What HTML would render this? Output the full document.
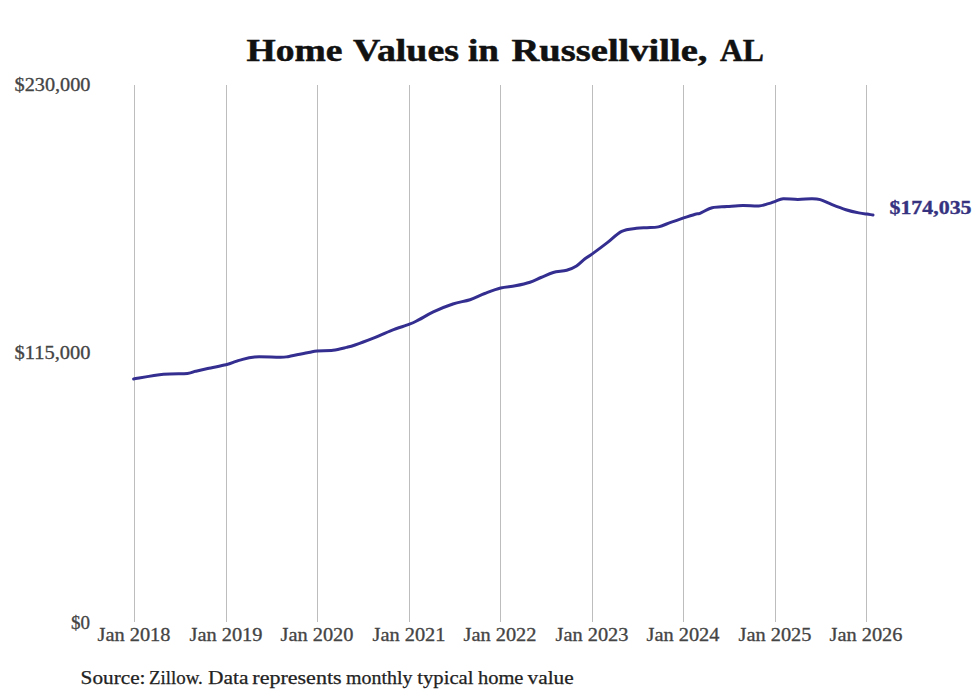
<!DOCTYPE html>
<html><head><meta charset="utf-8"><style>
html,body{margin:0;padding:0;background:#fff;}
body{width:980px;height:699px;overflow:hidden;}
svg{display:block;}
text{font-family:"Liberation Serif",serif;}
</style></head><body>
<svg width="980" height="699" viewBox="0 0 980 699">
<rect width="980" height="699" fill="#fff"/>
<g font-size="32" font-weight="bold" fill="#111" stroke="#111" stroke-width="0.5"><text x="246.5" y="60.5" textLength="96" lengthAdjust="spacingAndGlyphs">Home</text><text x="353" y="60.5" textLength="106" lengthAdjust="spacingAndGlyphs">Values</text><text x="468" y="60.5" textLength="31" lengthAdjust="spacingAndGlyphs">in</text><text x="511.5" y="60.5" textLength="196" lengthAdjust="spacingAndGlyphs">Russellville,</text><text x="720" y="60.5" textLength="44" lengthAdjust="spacingAndGlyphs">AL</text></g>
<g stroke="#bdbdbd" stroke-width="1"><line x1="134.5" y1="85" x2="134.5" y2="622"/><line x1="226.5" y1="85" x2="226.5" y2="622"/><line x1="317.5" y1="85" x2="317.5" y2="622"/><line x1="409.5" y1="85" x2="409.5" y2="622"/><line x1="500.5" y1="85" x2="500.5" y2="622"/><line x1="592.5" y1="85" x2="592.5" y2="622"/><line x1="683.5" y1="85" x2="683.5" y2="622"/><line x1="775.5" y1="85" x2="775.5" y2="622"/><line x1="866.5" y1="85" x2="866.5" y2="622"/></g>
<g font-size="18" fill="#444" stroke="#444" stroke-width="0.3">
<text x="90.5" y="91" text-anchor="end" textLength="76" lengthAdjust="spacingAndGlyphs">$230,000</text>
<text x="90.5" y="359" text-anchor="end" textLength="76" lengthAdjust="spacingAndGlyphs">$115,000</text>
<text x="90" y="629" text-anchor="end" textLength="19" lengthAdjust="spacingAndGlyphs">$0</text>
<text x="134" y="641" text-anchor="middle" textLength="73" lengthAdjust="spacingAndGlyphs">Jan 2018</text><text x="226" y="641" text-anchor="middle" textLength="73" lengthAdjust="spacingAndGlyphs">Jan 2019</text><text x="317" y="641" text-anchor="middle" textLength="73" lengthAdjust="spacingAndGlyphs">Jan 2020</text><text x="409" y="641" text-anchor="middle" textLength="73" lengthAdjust="spacingAndGlyphs">Jan 2021</text><text x="500" y="641" text-anchor="middle" textLength="73" lengthAdjust="spacingAndGlyphs">Jan 2022</text><text x="592" y="641" text-anchor="middle" textLength="73" lengthAdjust="spacingAndGlyphs">Jan 2023</text><text x="683" y="641" text-anchor="middle" textLength="73" lengthAdjust="spacingAndGlyphs">Jan 2024</text><text x="775" y="641" text-anchor="middle" textLength="73" lengthAdjust="spacingAndGlyphs">Jan 2025</text><text x="866" y="641" text-anchor="middle" textLength="73" lengthAdjust="spacingAndGlyphs">Jan 2026</text>
</g>
<path d="M133.6,378.9 C138.6,378.1 154.5,375.1 163.5,374.2 C172.5,373.3 182.1,373.9 187.4,373.4 C192.7,372.9 192.0,372.1 195.4,371.3 C198.8,370.5 202.6,369.6 207.7,368.5 C212.8,367.4 221.4,365.9 226.0,364.8 C230.6,363.7 232.9,362.5 235.2,361.7 C237.5,360.9 236.8,360.9 240.0,360.1 C243.2,359.3 248.0,357.4 254.7,356.9 C261.4,356.4 274.7,357.4 280.4,357.3 C286.1,357.2 284.3,357.2 289.0,356.4 C293.7,355.6 303.8,353.4 308.5,352.5 C313.2,351.6 313.0,351.3 317.1,350.9 C321.2,350.5 328.1,350.9 333.0,350.3 C337.9,349.7 342.8,348.3 346.5,347.4 C350.2,346.5 350.5,346.5 355.0,345.0 C359.5,343.5 367.3,340.6 373.4,338.2 C379.5,335.8 385.7,332.6 391.7,330.3 C397.7,328.0 405.0,325.9 409.5,324.2 C414.0,322.5 414.6,322.0 418.6,319.9 C422.6,317.9 427.6,314.6 433.3,311.9 C439.0,309.2 446.8,306.0 452.9,304.0 C459.0,302.0 464.7,301.4 470.0,299.7 C475.3,297.9 479.6,295.4 484.7,293.5 C489.8,291.6 495.5,289.3 500.6,288.0 C505.7,286.7 510.4,286.8 515.3,285.8 C520.2,284.8 525.7,283.6 530.0,282.2 C534.3,280.8 537.1,279.1 541.0,277.5 C544.9,275.9 548.9,273.7 553.2,272.5 C557.5,271.3 562.8,271.4 566.7,270.3 C570.6,269.2 573.5,267.9 576.5,266.0 C579.5,264.1 582.4,260.8 585.0,258.8 C587.6,256.8 588.6,256.6 592.3,253.9 C596.0,251.2 602.1,246.7 607.0,242.9 C611.9,239.1 616.8,233.7 621.7,231.3 C626.6,228.9 632.2,228.9 636.4,228.3 C640.6,227.7 643.3,227.9 647.0,227.7 C650.7,227.5 654.4,227.8 658.4,226.9 C662.4,226.0 666.6,223.8 670.7,222.4 C674.8,221.0 678.8,219.6 682.9,218.2 C687.0,216.8 692.4,215.0 695.2,214.2 C698.1,213.4 697.2,214.4 700.0,213.3 C702.8,212.2 707.7,208.9 712.2,207.8 C716.7,206.7 721.8,207.0 726.9,206.6 C732.0,206.2 737.5,205.5 742.8,205.4 C748.1,205.3 754.5,206.3 758.8,206.0 C763.1,205.7 765.6,204.4 768.5,203.6 C771.4,202.8 773.4,201.9 775.9,201.1 C778.4,200.3 779.5,199.0 783.2,198.7 C786.9,198.5 793.2,199.6 797.9,199.6 C802.6,199.6 807.7,198.7 811.4,198.7 C815.1,198.7 816.8,198.6 820.2,199.6 C823.7,200.6 827.8,202.9 832.1,204.6 C836.4,206.3 841.5,208.3 845.9,209.7 C850.3,211.1 855.3,212.2 858.8,212.9 C862.3,213.6 864.6,213.8 867.0,214.1 C869.4,214.5 872.0,214.8 873.0,215.0" fill="none" stroke="#332e8f" stroke-width="3" stroke-linejoin="round" stroke-linecap="round"/>
<text x="889.5" y="214" font-size="18.5" font-weight="bold" fill="#363280" stroke="#363280" stroke-width="0.35" textLength="82" lengthAdjust="spacingAndGlyphs">$174,035</text>
<g font-size="18.5" fill="#222" stroke="#222" stroke-width="0.25"><text x="80.6" y="684" textLength="64.9" lengthAdjust="spacingAndGlyphs">Source:</text><text x="149.0" y="684" textLength="53.8" lengthAdjust="spacingAndGlyphs">Zillow.</text><text x="208.0" y="684" textLength="40.4" lengthAdjust="spacingAndGlyphs">Data</text><text x="252.3" y="684" textLength="89.3" lengthAdjust="spacingAndGlyphs">represents</text><text x="346.0" y="684" textLength="66.4" lengthAdjust="spacingAndGlyphs">monthly</text><text x="417.3" y="684" textLength="56.2" lengthAdjust="spacingAndGlyphs">typical</text><text x="477.9" y="684" textLength="45.6" lengthAdjust="spacingAndGlyphs">home</text><text x="527.6" y="684" textLength="46.1" lengthAdjust="spacingAndGlyphs">value</text></g>
</svg>
</body></html>
